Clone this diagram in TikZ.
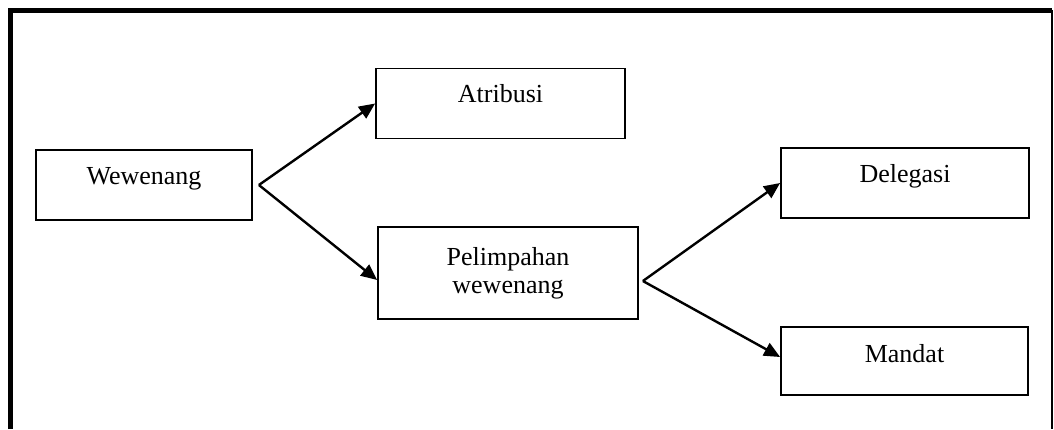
\documentclass[tikz,border=0pt]{standalone}
\usepackage{fontspec}
\setmainfont{Liberation Serif}
\usetikzlibrary{arrows.meta, positioning, calc}

\begin{document}
\begin{tikzpicture}[
  x=0.5pt, y=-0.5pt,
  box/.style={draw, line width=0.9pt, inner sep=0pt, align=center,
              font=\fontsize{13}{14}\selectfont},
  onebox/.style={box, text height=17pt, text depth=18pt},
  arr/.style={-{Triangle[length=8pt, width=7pt]}, line width=1.2pt}
]
  \useasboundingbox (0,0) rectangle (1054,429);
  \draw[line width=2.5pt] (10.5,429) -- (10.5,10) -- (1052,10);
  \draw[line width=1pt] (1051.5,10) -- (1051.5,429);

  \node[onebox, minimum width=108pt] (wew) at (144,185) {Wewenang};
  \node[onebox, minimum width=124.5pt] (atr) at (500.5,103.5) {Atribusi};
  \node[box, minimum width=130pt, minimum height=46pt] (pel) at (508,273) {Pelimpahan\\wewenang};
  \node[onebox, minimum width=124pt] (del) at (905,183) {Delegasi};
  \node[onebox, minimum width=123.5pt, text height=17.5pt, text depth=16.5pt] (man) at (904.5,361) {Mandat};

  \coordinate (wewout) at ([xshift=3pt]wew.east);
  \coordinate (pelout) at ([xshift=2pt, yshift=-4pt]pel.east);

  \draw[arr] (wewout) -- (atr.west);
  \draw[arr] (wewout) -- ([yshift=-3.5pt]pel.west);
  \draw[arr] (pelout) -- (del.west);
  \draw[arr] (pelout) -- ([yshift=2pt]man.west);
\end{tikzpicture}
\end{document}
